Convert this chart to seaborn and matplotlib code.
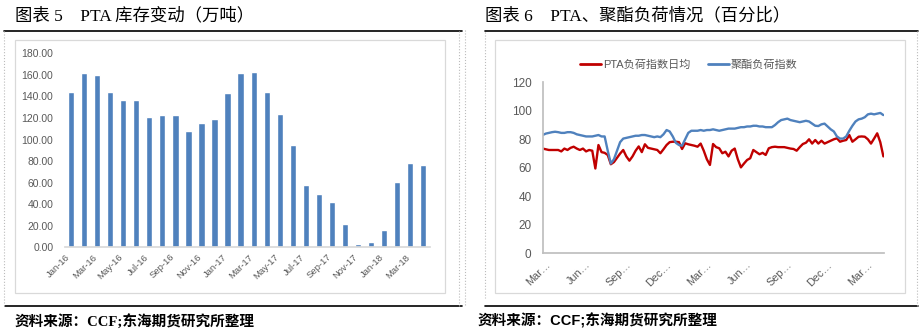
import numpy as np
import pandas as pd
import matplotlib
matplotlib.use("Agg")
import matplotlib.pyplot as plt
import matplotlib.transforms as mtransforms
from matplotlib.lines import Line2D
from matplotlib.patches import Rectangle
import seaborn as sns

# ---------------- data: left chart (PTA inventory, 万吨) ----------------
months = ["Jan-16", "Feb-16", "Mar-16", "Apr-16", "May-16", "Jun-16", "Jul-16",
          "Aug-16", "Sep-16", "Oct-16", "Nov-16", "Dec-16", "Jan-17", "Feb-17",
          "Mar-17", "Apr-17", "May-17", "Jun-17", "Jul-17", "Aug-17", "Sep-17",
          "Oct-17", "Nov-17", "Dec-17", "Jan-18", "Feb-18", "Mar-18", "Apr-18"]
inventory = [144, 162, 160, 144, 137, 137, 121, 123, 123, 108, 115, 119, 143, 162,
             163, 144, 124, 95, 58, 49, 42, 22, 3, 5, 16, 61, 78, 76]
bar_ticks = list(range(0, 28, 2))
bar_tick_labels = months[::2]
inv_yticks = [0, 20, 40, 60, 80, 100, 120, 140, 160, 180]

# ---------------- data: right chart (weekly load indices, %) ----------------
week_index = list(range(111))
polyester_load = [83, 84, 84.5, 85, 85.3, 85, 84.5, 84.5, 85, 85,
                  84.5, 83.5, 83, 82.5, 82, 82, 82, 82.5, 83, 82,
                  82, 72, 63, 66, 72, 78, 80.5, 81, 81.5, 82,
                  82.5, 82.5, 83, 83, 82.5, 82, 81.5, 82, 81.5, 83.5,
                  86.5, 85.5, 82, 77.5, 76, 75.5, 80, 84.5, 86, 86,
                  86, 86.5, 86, 86.5, 86.5, 87, 86.5, 86, 86.5, 87,
                  87.5, 87.5, 87.5, 88, 88.5, 88.5, 89, 89, 89.5, 89.5,
                  89, 89, 88.5, 88.5, 88.5, 90, 92, 93.5, 94, 94.5,
                  93.5, 93, 92.5, 92, 92.5, 93, 92.5, 91, 89.5, 89.3,
                  90.5, 91, 89, 87, 85.5, 82, 80.5, 80.5, 82, 86,
                  89.5, 92.5, 94, 94.5, 95.5, 97.5, 98, 97.5, 98, 98.5,
                  97]
pta_load = [73.5, 73, 72.5, 72.5, 72.5, 72.5, 71.5, 73.5, 72.5, 74,
            74.8, 73.5, 72.5, 73.5, 71.5, 72.5, 72, 59.5, 76, 71,
            70.5, 69, 62.5, 64, 67, 70, 72.5, 68, 65, 68,
            72, 75, 71, 76.5, 74, 73.5, 73, 72.5, 70.2, 73,
            76, 78, 78.3, 78.3, 78, 73.2, 77.2, 76.5, 76, 75.5,
            74.8, 77, 72, 66, 62, 76.7, 74.5, 73.7, 70.2, 71.3,
            68, 72, 73.5, 66, 60.3, 63, 65.5, 66.7, 72.5, 71,
            69.5, 70.5, 69, 73.7, 74.5, 74.8, 74.5, 74.5, 74.5, 74,
            73.5, 73.2, 72, 74.5, 76.7, 77.6, 80, 77, 79.5, 77,
            79, 77, 78, 79, 80, 80.7, 78.3, 79, 79.5, 83,
            78.3, 80, 81.8, 82, 81.8, 80, 77, 80.5, 84.2, 78,
            68]
line_ticks = [0, 13, 26, 39, 52, 65, 78, 91, 104]
line_tick_labels = ["Mar…", "Jun…", "Sep…", "Dec…", "Mar…", "Jun…", "Sep…", "Dec…", "Mar…"]
load_yticks = [0, 20, 40, 60, 80, 100, 120]
series_names = ["PTA负荷指数日均", "聚酯负荷指数"]
series_colors = ["#C00000", "#4F81BD"]

# ---------------- styling ----------------
sns.set_theme(style="white")
plt.rcParams['font.family'] = ['Liberation Sans', 'Noto Sans CJK SC', 'DejaVu Sans']

W, H = 924, 336
fig = plt.figure(figsize=(W / 100, H / 100), dpi=100)
fig.patch.set_facecolor("white")


def rect(x0, y0, x1, y1):
    return [x0 / W, 1 - y1 / H, (x1 - x0) / W, (y1 - y0) / H]


def hline(x0, x1, y, color="black", lw=1.0, ls="-"):
    fig.add_artist(Line2D([x0 / W, x1 / W], [1 - y / H, 1 - y / H],
                          transform=fig.transFigure, color=color, lw=lw, ls=ls))


def vline(x, y0, y1, color="#BBBBBB", lw=0.8, ls=":"):
    fig.add_artist(Line2D([x / W, x / W], [1 - y0 / H, 1 - y1 / H],
                          transform=fig.transFigure, color=color, lw=lw, ls=ls))


def frame(x0, y0, x1, y1, color="#D9D9D9"):
    fig.add_artist(Rectangle((x0 / W, 1 - y1 / H), (x1 - x0) / W, (y1 - y0) / H,
                             transform=fig.transFigure, fill=False,
                             edgecolor=color, lw=0.9))


title_family = ['Liberation Serif', 'Noto Sans CJK SC']
tick_color = "#595959"

# panel decorations
fig.text(15 / W, 1 - 16 / H, "图表 5    PTA 库存变动（万吨）", fontsize=12.5,
         family=title_family, va="center", ha="left", color="black")
fig.text(485 / W, 1 - 16 / H, "图表 6    PTA、聚酯负荷情况（百分比）", fontsize=12.5,
         family=title_family, va="center", ha="left", color="black")
hline(4, 462, 31, lw=1.2)
hline(485, 918, 31, lw=1.2)
hline(5, 462, 306, lw=1.2)
hline(485, 918, 306, lw=1.2)
vline(4, 31, 306)
vline(459, 31, 306)
vline(465, 30, 306)
vline(485, 32, 298)
vline(917, 31, 306)
frame(15, 40, 445, 293)
frame(495, 40, 905, 293)

fig.text(15 / W, 1 - 321 / H, "资料来源：CCF;东海期货研究所整理", fontsize=10.5,
         fontweight="bold", family=['Liberation Serif', 'Noto Sans CJK SC'],
         va="center", ha="left", color="black")
fig.text(478 / W, 1 - 321 / H, "资料来源：CCF;东海期货研究所整理", fontsize=10.5,
         fontweight="bold", family=['Liberation Sans', 'Noto Sans CJK SC'],
         va="center", ha="left", color="black")

# ---------------- left: bar chart ----------------
ax1 = fig.add_axes(rect(64.5, 53.3, 429.8, 247.3))
df_inv = pd.DataFrame({"month": months, "inventory": inventory})
sns.barplot(data=df_inv, x="month", y="inventory", order=months, color="#4F81BD",
            saturation=1, width=0.48, ax=ax1)
ax1.set_xlim(-0.5, len(months) - 0.5)
ax1.set_ylim(0, 180)
ax1.set_yticks(inv_yticks)
ax1.set_yticklabels([f"{v:.2f}" for v in inv_yticks], fontsize=7.5, color=tick_color)
ax1.set_xticks(bar_ticks)
ax1.set_xticklabels(bar_tick_labels, rotation=45, ha="right", va="center",
                    rotation_mode="anchor", fontsize=6.8, color=tick_color)
ax1.set_xlabel("")
ax1.set_ylabel("")
for s in ["top", "right", "left"]:
    ax1.spines[s].set_visible(False)
ax1.spines["bottom"].set_color("#D9D9D9")
ax1.tick_params(axis="y", length=0, pad=8)
ax1.tick_params(axis="x", length=0, pad=6)
ax1.set_xticks([i - 0.5 for i in range(0, 29, 2)], minor=True)
ax1.tick_params(axis="x", which="minor", length=3, color="#D9D9D9")
offset = mtransforms.ScaledTranslation(-2 / 100, 0, fig.dpi_scale_trans)
for lab in ax1.get_xticklabels():
    lab.set_transform(lab.get_transform() + offset)
ax1.set_facecolor("none")

# ---------------- right: line chart ----------------
ax2 = fig.add_axes(rect(542.7, 82.3, 884, 253.3))
df_load = pd.DataFrame({
    "week": week_index * 2,
    "value": pta_load + polyester_load,
    "series": [series_names[0]] * len(week_index) + [series_names[1]] * len(week_index),
})
sns.lineplot(data=df_load, x="week", y="value", hue="series", hue_order=series_names,
             palette=dict(zip(series_names, series_colors)), linewidth=1.7,
             legend=False, ax=ax2)
ax2.set_xlim(0, 110.2)
ax2.set_ylim(0, 120)
ax2.set_yticks(load_yticks)
ax2.set_yticklabels([str(v) for v in load_yticks], fontsize=8.5, color=tick_color)
ax2.set_xticks(line_ticks)
ax2.set_xticklabels(line_tick_labels, rotation=45, ha="right", va="center",
                    rotation_mode="anchor", fontsize=7.8, color=tick_color)
ax2.set_xlabel("")
ax2.set_ylabel("")
for s in ["top", "right"]:
    ax2.spines[s].set_visible(False)
ax2.spines["bottom"].set_color("#BFBFBF")
ax2.spines["left"].set_color("#BFBFBF")
ax2.tick_params(axis="y", length=0, pad=8)
ax2.tick_params(axis="x", length=0, pad=7)
offset2 = mtransforms.ScaledTranslation(6 / 100, 0, fig.dpi_scale_trans)
for lab in ax2.get_xticklabels():
    lab.set_transform(lab.get_transform() + offset2)
ax2.set_facecolor("none")

handles = [Line2D([0], [0], color=c, lw=2) for c in series_colors]
fig.legend(handles, series_names, loc="center", bbox_to_anchor=(689 / W, 1 - 65 / H),
           ncol=2, frameon=False, fontsize=8, handlelength=1.9, handletextpad=0.2,
           columnspacing=1.5, labelcolor=tick_color)

fig.savefig("out.png", dpi=100, facecolor="white")
